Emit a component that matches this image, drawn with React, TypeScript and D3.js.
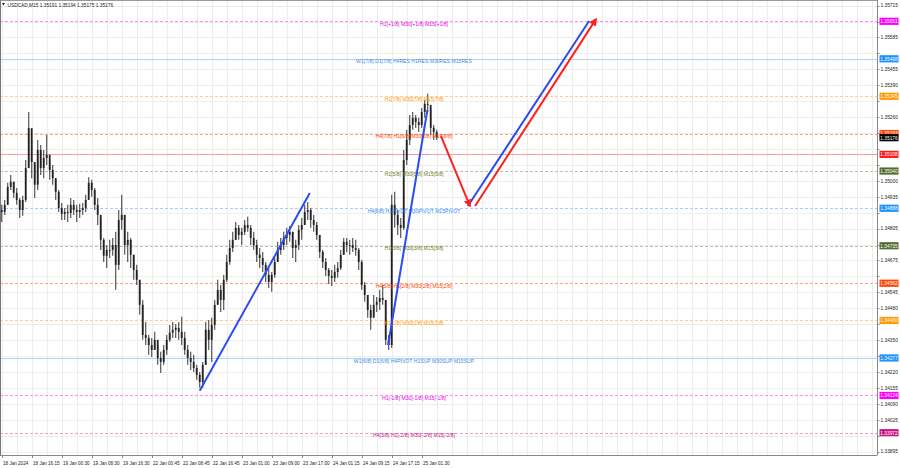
import React from "react";
import * as d3 from "d3";

const W = 900;
const H = 468;
const PLOT_R = 877.5;
const PLOT_B = 455;

// ---- data (USDCAD M15, one entry per drawn bar) ----
const highs = [
  1.34902, 1.34922, 1.34992, 1.35024, 1.34996, 1.34971, 1.3493, 1.34939, 1.35085, 1.35281,
  1.35167, 1.35065, 1.35167, 1.35146, 1.35126, 1.35187, 1.35085, 1.35065, 1.35011, 1.34963,
  1.3491, 1.34889, 1.34902, 1.3493, 1.34922, 1.34902, 1.34906, 1.3491, 1.34943, 1.35015,
  1.35004, 1.34971, 1.3493, 1.3484, 1.34767, 1.34738, 1.34759, 1.34767, 1.34792, 1.34881,
  1.34943, 1.34861, 1.34792, 1.34767, 1.34698, 1.34657, 1.34596, 1.34514, 1.34424, 1.34371,
  1.34359, 1.34384, 1.3433, 1.34302, 1.3433, 1.34371, 1.34412, 1.34424, 1.34416, 1.34424,
  1.34445, 1.34384, 1.3433, 1.34302, 1.3429, 1.34249, 1.3422, 1.34261, 1.34424, 1.34432,
  1.34441, 1.34514, 1.34596, 1.34575, 1.34616, 1.34698, 1.34759, 1.34792, 1.34832, 1.3482,
  1.34808, 1.3484, 1.34853, 1.3482, 1.34792, 1.34759, 1.34726, 1.3471, 1.34669, 1.34644,
  1.34628, 1.34685, 1.34751, 1.34767, 1.34792, 1.34808, 1.34816, 1.34792, 1.34759, 1.3482,
  1.34848, 1.34902, 1.34914, 1.34889, 1.34861, 1.34832, 1.34779, 1.34718, 1.34685, 1.34644,
  1.34636, 1.34657, 1.34669, 1.34718, 1.34767, 1.34767, 1.34759, 1.34767, 1.34759, 1.34726,
  1.34677, 1.34587, 1.34534, 1.34494, 1.34534, 1.34526, 1.34555, 1.34575, 1.34514, 1.34371,
  1.34943, 1.34955, 1.34881, 1.34848, 1.35126, 1.35208, 1.35269, 1.35281, 1.35269, 1.35257,
  1.35297, 1.3533, 1.35355, 1.35289, 1.35228, 1.35208,
];
const lows = [
  1.34832, 1.34861, 1.34902, 1.34963, 1.3493, 1.34902, 1.34848, 1.34857, 1.34914, 1.35065,
  1.35011, 1.3493, 1.34963, 1.35024, 1.35011, 1.35065, 1.35004, 1.34984, 1.34922, 1.34873,
  1.3484, 1.3484, 1.34832, 1.34848, 1.34861, 1.34832, 1.34848, 1.34861, 1.34873, 1.34943,
  1.34935, 1.34881, 1.3482, 1.34718, 1.34669, 1.34644, 1.34685, 1.34694, 1.34555, 1.34636,
  1.348, 1.34698, 1.34669, 1.34644, 1.34596, 1.34575, 1.34453, 1.34351, 1.3433, 1.3429,
  1.34281, 1.3431, 1.34249, 1.34216, 1.34249, 1.3429, 1.34343, 1.34359, 1.34359, 1.34351,
  1.3433, 1.3429, 1.34249, 1.34228, 1.3422, 1.34188, 1.34155, 1.34155, 1.34249, 1.3431,
  1.34261, 1.34392, 1.34494, 1.34465, 1.34473, 1.34587, 1.34657, 1.3471, 1.34759, 1.34759,
  1.34738, 1.34779, 1.34792, 1.34738, 1.34718, 1.34669, 1.34644, 1.34628, 1.34587, 1.34563,
  1.34547, 1.34604, 1.34669, 1.34698, 1.34718, 1.34738, 1.34751, 1.34685, 1.34669, 1.34718,
  1.34759, 1.3482, 1.3484, 1.34808, 1.34792, 1.34759, 1.34685, 1.34644, 1.34612, 1.34579,
  1.34571, 1.34587, 1.34604, 1.34636, 1.34698, 1.3471, 1.34698, 1.3471, 1.34694, 1.34636,
  1.34555, 1.34506, 1.34441, 1.34392, 1.34453, 1.34465, 1.34473, 1.34494, 1.3433, 1.3431,
  1.34318, 1.34808, 1.34779, 1.34767, 1.348, 1.35065, 1.35146, 1.35208, 1.35216, 1.35199,
  1.35216, 1.35257, 1.35281, 1.35187, 1.35167, 1.35167,
];
const closes = [
  1.34873, 1.34902, 1.34975, 1.34996, 1.34951, 1.34922, 1.34881, 1.34922, 1.35052, 1.35215,
  1.35077, 1.34984, 1.35126, 1.35052, 1.35093, 1.35106, 1.35044, 1.35011, 1.34955, 1.34889,
  1.34865, 1.34873, 1.34869, 1.34902, 1.34881, 1.34873, 1.34881, 1.34889, 1.34922, 1.34992,
  1.34963, 1.34902, 1.34861, 1.34759, 1.34694, 1.34718, 1.34718, 1.34738, 1.34657, 1.3484,
  1.34861, 1.34738, 1.34759, 1.34698, 1.34636, 1.34596, 1.34494, 1.34371, 1.34359, 1.3433,
  1.3431, 1.34351, 1.34277, 1.34261, 1.3431, 1.34351, 1.3438, 1.34392, 1.344, 1.34384,
  1.34359, 1.3431, 1.34277, 1.34261, 1.34236, 1.34208, 1.34179, 1.34249, 1.34392, 1.34351,
  1.34412, 1.34494, 1.34555, 1.34514, 1.34596, 1.34669, 1.34726, 1.34759, 1.34808, 1.34779,
  1.34792, 1.3482, 1.34808, 1.34767, 1.34738, 1.34698, 1.34685, 1.34657, 1.34616, 1.34587,
  1.34616, 1.34669, 1.34718, 1.34738, 1.34767, 1.34779, 1.34792, 1.34726, 1.34738, 1.348,
  1.3482, 1.34873, 1.34881, 1.3484, 1.3482, 1.34779, 1.3471, 1.34669, 1.34636, 1.34612,
  1.34604, 1.34628, 1.34644, 1.34698, 1.34751, 1.34738, 1.34738, 1.34726, 1.34718, 1.34669,
  1.34575, 1.34534, 1.34473, 1.34441, 1.34494, 1.34506, 1.34522, 1.34514, 1.34351, 1.3433,
  1.34902, 1.34861, 1.3482, 1.34808, 1.35085, 1.35167, 1.35228, 1.35257, 1.3524, 1.35228,
  1.35281, 1.35314, 1.3531, 1.35216, 1.35199, 1.35176,
];

const timeLabels = [
  "18 Jan 2024", "18 Jan 16:15", "19 Jan 00:30", "19 Jan 08:30", "19 Jan 16:30",
  "22 Jan 00:45", "22 Jan 08:45", "22 Jan 16:45", "23 Jan 01:00", "23 Jan 09:00",
  "23 Jan 17:00", "24 Jan 01:15", "24 Jan 09:15", "24 Jan 17:15", "25 Jan 01:30",
];
const BARS_PER_LABEL = 10;

const priceTicks = [
  1.35715, 1.3565, 1.35585, 1.3552, 1.35455, 1.3539, 1.35325, 1.3526, 1.35195, 1.3513,
  1.35065, 1.35, 1.34935, 1.3487, 1.34805, 1.3474, 1.34675, 1.3461, 1.34545, 1.3448,
  1.34415, 1.3435, 1.34285, 1.3422, 1.34155, 1.3409, 1.34025, 1.3396, 1.33895,
];

const levelPrices = [
  1.35651, 1.35498, 1.35345, 1.35193, 1.3504, 1.34888, 1.34735, 1.34582, 1.3443, 1.34277,
  1.34124, 1.33972,
];
const levelLabels = [
  "H1[+1/8] M30[+1/8] M15[+1/8]",
  "W1[7/8] D1[7/8] H4RES H1RES M30RES M15RES",
  "H1[7/8] M30[7/8] M15[7/8]",
  "H4[7/8] H1[6/8] M30[6/8] M15[6/8]",
  "H1[5/8] M30[5/8] M15[5/8]",
  "H4[6/8] H1PIVOT M30PIVOT M15PIVOT",
  "H1[3/8] M30[3/8] M15[3/8]",
  "H4[5/8] H1[2/8] M30[2/8] M15[2/8]",
  "H1[1/8] M30[1/8] M15[1/8]",
  "W1[6/8] D1[6/8] H4PIVOT H1SUP M30SUP M15SUP",
  "H1[-1/8] M30[-1/8] M15[-1/8]",
  "H4[3/8] H1[-2/8] M30[-2/8] M15[-2/8]",
];
const levelKinds = [
  "magenta", "blueSolid", "orange", "red", "olive", "blueDash", "olive", "red", "orange",
  "blueSolid", "magenta", "violet",
];

const extraLinePrice = 1.35108;
const lastPrice = 1.35176;

// trend / projection lines: [barIndex1, price1, barIndex2, price2]
const trendBlue = [
  [66.0, 1.34143, 102.7, 1.3495],
  [128.8, 1.3433, 141.9, 1.35289],
  [155.4, 1.34897, 195.8, 1.35652],
];
const trendRed = [
  [146.4, 1.35183, 156.1, 1.34897],
  [157.8, 1.34897, 198.1, 1.3566],
];

const styles: Record<string, { line: string; dash: string; text: string; box: string }> = {
  magenta: { line: "#ff8cff", dash: "3,2", text: "#e600e6", box: "#ff00ff" },
  blueSolid: { line: "#b3d1f5", dash: "", text: "#3a8ee6", box: "#1e90ff" },
  orange: { line: "#ffcc8a", dash: "3,2", text: "#ff9a00", box: "#ff9a00" },
  red: { line: "#ffa08a", dash: "3,2", text: "#ff4500", box: "#ff4500" },
  olive: { line: "#c2c2a3", dash: "3,2", text: "#6b7d2a", box: "#556b2f" },
  blueDash: { line: "#a8ccff", dash: "3,2", text: "#2f8cf0", box: "#1e90ff" },
  violet: { line: "#eba0d4", dash: "3,2", text: "#c71585", box: "#c71585" },
};

const FONT = "'Liberation Sans', Arial, sans-serif";

export default function App() {
  const x = d3.scaleLinear().domain([0, 290]).range([1.7, 871.7]);
  const y = d3.scaleLinear().domain([1.33881, 1.35738]).range([PLOT_B, 0]);
  const snap = (v: number) => Math.round(v) + 0.5;
  const gridX = d3.range(0, 291, 5);
  const opens = closes.map((c, i) => (i === 0 ? 1.34881 : closes[i - 1]));
  const boxPrices = [...levelPrices, extraLinePrice, lastPrice];
  const visibleTicks = priceTicks.filter(
    (p) => boxPrices.every((b) => Math.abs(y(b) - y(p)) > 7.5)
  );

  const box = (p: number, fill: string, key: string) => (
    <g key={key}>
      <rect x={879.5} y={y(p) - 3.6} width={19} height={7.2} fill={fill} />
      <text
        x={889} y={y(p) + 1.9} fontSize={4.8} fill="#fff" textAnchor="middle" fontFamily={FONT}
      >
        {p.toFixed(5)}
      </text>
    </g>
  );

  return (
    <svg
      width={W}
      height={H}
      style={{ position: "absolute", left: 0, top: 0, background: "#fff" }}
    >
      <rect x={0} y={0} width={W} height={H} fill="#fff" />
      {/* grid */}
      {gridX.map((g) => (
        <line key={"gx" + g} x1={snap(x(g))} x2={snap(x(g))} y1={0} y2={PLOT_B} stroke="#ededed" strokeWidth={1} />
      ))}
      {priceTicks.map((p) => (
        <line key={"gy" + p} x1={0} x2={PLOT_R} y1={snap(y(p))} y2={snap(y(p))} stroke="#ededed" strokeWidth={1} />
      ))}

      {/* levels */}
      {levelPrices.map((p, i) => {
        const s = styles[levelKinds[i]];
        return (
          <line
            key={"lv" + i}
            x1={0} x2={PLOT_R} y1={snap(y(p))} y2={snap(y(p))}
            stroke={s.line} strokeWidth={1} strokeDasharray={s.dash || undefined}
          />
        );
      })}
      <line
        x1={0} x2={PLOT_R} y1={snap(y(extraLinePrice))} y2={snap(y(extraLinePrice))}
        stroke="#f5a0a0" strokeWidth={1}
      />

      {/* candles */}
      {highs.map((h, i) => {
        const cx = x(i);
        const o = opens[i];
        const c = closes[i];
        const top = y(Math.max(o, c));
        const bot = y(Math.min(o, c));
        return (
          <g key={"c" + i}>
            <line x1={cx} x2={cx} y1={y(h)} y2={y(lows[i])} stroke="#555" strokeWidth={1.2} />
            <rect x={cx - 0.9} y={top} width={1.8} height={Math.max(bot - top, 0.8)} fill="#222" />
          </g>
        );
      })}

      {/* level labels */}
      {levelPrices.map((p, i) => {
        const s = styles[levelKinds[i]];
        return (
          <text
            key={"lt" + i}
            x={414} y={y(p) + 4.6} fontSize={5.1} fill={s.text} textAnchor="middle" fontFamily={FONT}
          >
            {levelLabels[i]}
          </text>
        );
      })}

      {/* trend lines */}
      <defs>
        <marker id="arrRed" viewBox="0 0 10 10" refX="8" refY="5" markerWidth="4" markerHeight="4" orient="auto">
          <path d="M0,0 L10,5 L0,10 z" fill="#ff2020" />
        </marker>
      </defs>
      {trendBlue.map((t, i) => (
        <line key={"tb" + i} x1={x(t[0])} y1={y(t[1])} x2={x(t[2])} y2={y(t[3])} stroke="#2a4df0" strokeWidth={2} />
      ))}
      {trendRed.map((t, i) => (
        <line
          key={"tr" + i} x1={x(t[0])} y1={y(t[1])} x2={x(t[2])} y2={y(t[3])}
          stroke="#ff2020" strokeWidth={2} markerEnd="url(#arrRed)"
        />
      ))}

      {/* frame */}
      <line x1={0.5} x2={0.5} y1={0} y2={PLOT_B} stroke="#777" strokeWidth={1} />
      <line x1={PLOT_R} x2={PLOT_R} y1={0} y2={PLOT_B} stroke="#888" strokeWidth={1} />
      <line x1={0} x2={PLOT_R} y1={PLOT_B + 0.5} y2={PLOT_B + 0.5} stroke="#888" strokeWidth={1} />
      <line x1={0} x2={PLOT_R} y1={0.5} y2={0.5} stroke="#999" strokeWidth={1} />

      {/* price axis */}
      {priceTicks.map((p) => (
        <line key={"ptk" + p} x1={PLOT_R} x2={PLOT_R + 2} y1={snap(y(p))} y2={snap(y(p))} stroke="#888" />
      ))}
      {visibleTicks.map((p) => (
        <text key={"pt" + p} x={880.5} y={y(p) + 1.8} fontSize={4.8} fill="#222" fontFamily={FONT}>
          {p.toFixed(5)}
        </text>
      ))}
      {levelPrices.map((p, i) => box(p, styles[levelKinds[i]].box, "bx" + i))}
      {box(extraLinePrice, "#ff1a1a", "bxe")}
      {box(lastPrice, "#000", "bxl")}

      {/* time axis */}
      {timeLabels.map((t, k) => {
        const tx = snap(x(k * BARS_PER_LABEL));
        return (
          <g key={"tl" + k}>
            <line x1={tx} x2={tx} y1={PLOT_B} y2={PLOT_B + 3} stroke="#888" />
            <text x={tx + 0.5} y={465} fontSize={4.6} fill="#222" fontFamily={FONT}>
              {t}
            </text>
          </g>
        );
      })}

      {/* title */}
      <path d="M2,3 L5,3 L3.5,5.5 z" fill="#222" />
      <text x={7.5} y={6.5} fontSize={4.8} fill="#222" fontFamily={FONT}>
        USDCAD,M15  1.35191 1.35194 1.35175 1.35176
      </text>
    </svg>
  );
}
